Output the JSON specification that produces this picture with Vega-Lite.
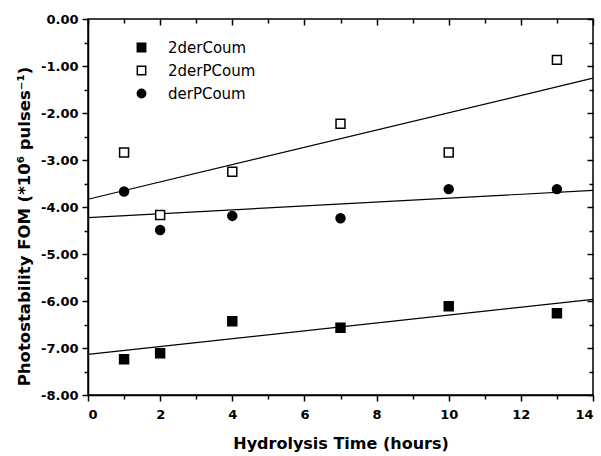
{
  "$schema": "https://vega.github.io/schema/vega-lite/v6.json",
  "autosize": {"type": "none"},
  "width": 505,
  "height": 376,
  "padding": {"left": 88, "top": 19, "right": 8, "bottom": 61},
  "background": "white",
  "config": {
    "view": {"stroke": "black", "strokeWidth": 1.5},
    "font": "DejaVu Sans",
    "axis": {
      "domainColor": "black", "domainWidth": 1.5, "tickColor": "black", "tickWidth": 1.5,
      "labelColor": "black", "labelFont": "DejaVu Sans", "labelFontWeight": "bold", "labelFontSize": 13,
      "titleColor": "black", "titleFont": "DejaVu Sans", "titleFontWeight": "bold", "titleFontSize": 16,
      "grid": false
    },
    "legend": {"labelFont": "DejaVu Sans", "labelFontSize": 15, "labelColor": "black"}
  },
  "data": {"values": [
    {"series": "2derCoum", "x": 1, "y": -7.24},
    {"series": "2derCoum", "x": 2, "y": -7.11},
    {"series": "2derCoum", "x": 4, "y": -6.43},
    {"series": "2derCoum", "x": 7, "y": -6.57},
    {"series": "2derCoum", "x": 10, "y": -6.11},
    {"series": "2derCoum", "x": 13, "y": -6.26},
    {"series": "2derPCoum", "x": 1, "y": -2.84},
    {"series": "2derPCoum", "x": 2, "y": -4.17},
    {"series": "2derPCoum", "x": 4, "y": -3.25},
    {"series": "2derPCoum", "x": 7, "y": -2.23},
    {"series": "2derPCoum", "x": 10, "y": -2.84},
    {"series": "2derPCoum", "x": 13, "y": -0.87},
    {"series": "derPCoum", "x": 1, "y": -3.67},
    {"series": "derPCoum", "x": 2, "y": -4.49},
    {"series": "derPCoum", "x": 4, "y": -4.19},
    {"series": "derPCoum", "x": 7, "y": -4.24},
    {"series": "derPCoum", "x": 10, "y": -3.62},
    {"series": "derPCoum", "x": 13, "y": -3.62}
  ]},
  "resolve": {"axis": {"x": "independent", "y": "independent"}},
  "layer": [
    {
      "transform": [{"regression": "y", "on": "x", "groupby": ["series"], "extent": [0, 14]}],
      "mark": {"type": "line", "color": "black", "strokeWidth": 1.2},
      "encoding": {
        "x": {"field": "x", "type": "quantitative", "scale": {"domain": [0, 14], "nice": false},
          "axis": {"orient": "bottom", "values": [0, 2, 4, 6, 8, 10, 12, 14], "tickSize": 6, "labelPadding": 7, "title": "Hydrolysis Time (hours)", "titlePadding": 14}},
        "y": {"field": "y", "type": "quantitative", "scale": {"domain": [-8, 0], "nice": false},
          "axis": {"orient": "left", "values": [-8, -7, -6, -5, -4, -3, -2, -1, 0], "tickSize": 6, "labelPadding": 4,
            "labelExpr": "replace(format(datum.value, '.2f'), '\u2212', '-')",
            "title": "Photostability FOM (*10\u2076 pulses\u207b\u00b9)", "titlePadding": 8, "titleFontSize": 16.5, "titleY": 207}},
        "detail": {"field": "series"}
      }
    },
    {
      "mark": {"type": "point", "filled": false, "opacity": 1, "stroke": "black", "strokeWidth": 1.5},
      "encoding": {
        "x": {"field": "x", "type": "quantitative",
          "axis": {"orient": "bottom", "values": [1, 3, 5, 7, 9, 11, 13], "tickSize": 4, "labels": false, "domain": false, "title": null}},
        "y": {"field": "y", "type": "quantitative",
          "axis": {"orient": "left", "values": [-7.5, -6.5, -5.5, -4.5, -3.5, -2.5, -1.5, -0.5], "tickSize": 4, "labels": false, "domain": false, "title": null}},
        "shape": {"field": "series", "type": "nominal", "scale": {"domain": ["2derCoum", "2derPCoum", "derPCoum"], "range": ["square", "square", "circle"]},
          "legend": {"title": null, "orient": "none", "legendX": 46, "legendY": 21, "rowPadding": 7, "symbolSize": 70, "labelOffset": 19, "labelFontSize": 15,
            "encode": {"symbols": {"update": {"stroke": {"value": "black"}, "strokeWidth": {"value": 1.5}}}}}},
        "fill": {"field": "series", "type": "nominal", "scale": {"domain": ["2derCoum", "2derPCoum", "derPCoum"], "range": ["black", "white", "black"]},
          "legend": {"title": null, "orient": "none", "legendX": 46, "legendY": 21, "rowPadding": 7, "symbolSize": 70, "labelOffset": 19, "labelFontSize": 15,
            "encode": {"symbols": {"update": {"stroke": {"value": "black"}, "strokeWidth": {"value": 1.5}}}}}},
        "size": {"value": 80}
      }
    },
    {
      "mark": {"type": "point", "opacity": 0},
      "encoding": {
        "x": {"field": "x", "type": "quantitative",
          "axis": {"orient": "top", "values": [0, 2, 4, 6, 8, 10, 12, 14], "tickSize": -6, "labels": false, "domain": false, "title": null}},
        "y": {"field": "y", "type": "quantitative",
          "axis": {"orient": "right", "values": [-8, -7, -6, -5, -4, -3, -2, -1, 0], "tickSize": -6, "labels": false, "domain": false, "title": null}}
      }
    },
    {
      "mark": {"type": "point", "opacity": 0},
      "encoding": {
        "x": {"field": "x", "type": "quantitative",
          "axis": {"orient": "top", "values": [1, 3, 5, 7, 9, 11, 13], "tickSize": -4, "labels": false, "domain": false, "title": null}},
        "y": {"field": "y", "type": "quantitative",
          "axis": {"orient": "right", "values": [-7.5, -6.5, -5.5, -4.5, -3.5, -2.5, -1.5, -0.5], "tickSize": -4, "labels": false, "domain": false, "title": null}}
      }
    }
  ]
}
